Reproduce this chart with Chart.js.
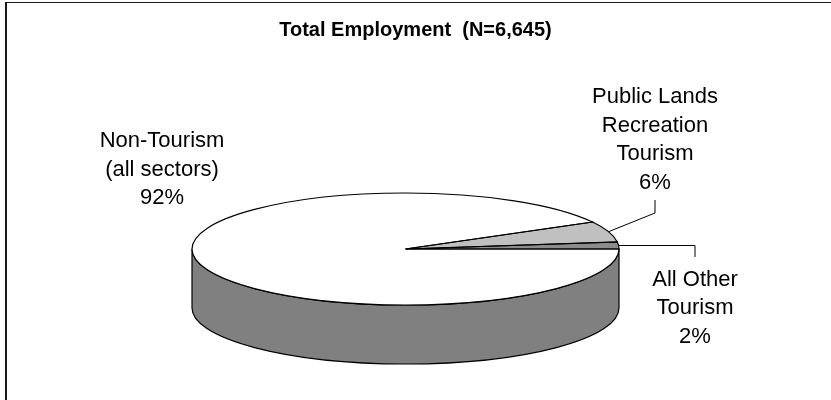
<!DOCTYPE html>
<html>
<head>
<meta charset="utf-8">
<script src="https://cdn.jsdelivr.net/npm/chart.js@4.4.0/dist/chart.umd.min.js"></script>
<style>
  html, body { margin: 0; padding: 0; background: #fff; }
  canvas { display: block; }
</style>
</head>
<body>
<canvas id="pie" width="831" height="400"></canvas>
<script>
const TITLE = 'Total Employment  (N=6,645)';
const CATEGORIES = [
  ['Non-Tourism', '(all sectors)'],
  ['Public Lands', 'Recreation', 'Tourism'],
  ['All Other', 'Tourism'],
];
const SHARES = [92, 6, 2];

const TOP_COLORS = ['#ffffff', '#c0c0c0', '#8c8c8c'];
const SIDE_COLOR = '#808080';
const EDGE_COLOR = '#000000';
const FONT = "'Liberation Sans', Arial, sans-serif";
const LINE_H = 28.7;
const TILT = 0.2623; // ry / rx of the top face

// label block: centre x + first baseline, leader elbow / end (null y = same as start)
const LABEL_LAYOUT = [
  { x: 162, y: 147 },
  { x: 655, y: 103, elbow: [655, 213], end: [655, 200] },
  { x: 695, y: 285.5, elbow: [695, null], end: [695, 257] },
];

function pieGeometry(chart) {
  const a = chart.chartArea;
  const rx = (a.right - a.left) / 2;
  const ry = rx * TILT;
  return { cx: (a.left + a.right) / 2, cy: a.top + ry, rx, ry, depth: (a.bottom - a.top) - 2 * ry };
}

const pie3d = {
  id: 'pie3d',
  beforeDraw(chart) {
    const { ctx } = chart;
    ctx.save();
    ctx.fillStyle = '#1a1a1a';
    ctx.fillRect(5, 2, 2, 398);
    ctx.fillRect(5, 2, 826, 1);
    ctx.restore();
  },
  beforeDatasetsDraw(chart) {
    const { ctx } = chart;
    const g = pieGeometry(chart);
    const arcs = chart.getDatasetMeta(0).data;

    // front wall (only the lower half of the ellipse can be seen)
    ctx.save();
    ctx.lineWidth = 1.2;
    ctx.strokeStyle = EDGE_COLOR;
    ctx.fillStyle = SIDE_COLOR;
    arcs.forEach(arc => {
      for (let n = -1; n <= 1; n++) {
        const lo = Math.max(arc.startAngle, 2 * Math.PI * n);
        const hi = Math.min(arc.endAngle, 2 * Math.PI * n + Math.PI);
        if (hi <= lo) continue;
        ctx.beginPath();
        ctx.ellipse(g.cx, g.cy, g.rx, g.ry, 0, lo, hi);
        ctx.ellipse(g.cx, g.cy + g.depth, g.rx, g.ry, 0, hi, lo, true);
        ctx.closePath();
        ctx.fill();
        ctx.stroke();
      }
    });
    ctx.restore();

    // squash the flat pie into the top face
    const a0 = arcs[0];
    ctx.save();
    ctx.translate(g.cx, g.cy);
    ctx.scale(g.rx / a0.outerRadius, g.ry / a0.outerRadius);
    ctx.translate(-a0.x, -a0.y);
  },
  afterDatasetsDraw(chart) {
    const { ctx } = chart;
    ctx.restore();
    const g = pieGeometry(chart);
    ctx.save();
    ctx.lineWidth = 1.2;
    ctx.strokeStyle = EDGE_COLOR;
    chart.getDatasetMeta(0).data.forEach(arc => {
      ctx.beginPath();
      ctx.moveTo(g.cx, g.cy);
      ctx.ellipse(g.cx, g.cy, g.rx, g.ry, 0, arc.startAngle, arc.endAngle);
      ctx.closePath();
      ctx.stroke();
    });
    ctx.restore();
  },
  afterDraw(chart) {
    const { ctx, width } = chart;
    const g = pieGeometry(chart);
    const arcs = chart.getDatasetMeta(0).data;
    ctx.save();
    ctx.fillStyle = '#000';
    ctx.strokeStyle = '#000';
    ctx.lineWidth = 1;
    ctx.textAlign = 'center';
    ctx.textBaseline = 'alphabetic';
    ctx.font = `bold 20px ${FONT}`;
    ctx.fillText(TITLE, width / 2, 35.5);

    ctx.font = `22px ${FONT}`;
    CATEGORIES.forEach((lines, i) => {
      const lay = LABEL_LAYOUT[i];
      [...lines, SHARES[i] + '%'].forEach((t, j) => ctx.fillText(t, lay.x, lay.y + j * LINE_H));
      if (!lay.end) return;
      const arc = arcs[i];
      const m = (arc.startAngle + arc.endAngle) / 2;
      const sx = g.cx + g.rx * Math.cos(m);
      const sy = g.cy + g.ry * Math.sin(m);
      ctx.beginPath();
      ctx.moveTo(sx, sy);
      ctx.lineTo(lay.elbow[0], lay.elbow[1] ?? sy);
      ctx.lineTo(lay.end[0], lay.end[1]);
      ctx.stroke();
    });
    ctx.restore();
  },
};

new Chart(document.getElementById('pie'), {
  type: 'pie',
  data: {
    labels: CATEGORIES,
    datasets: [{
      data: SHARES,
      backgroundColor: TOP_COLORS,
      borderWidth: 0,
      hoverOffset: 0,
      clip: false,
    }],
  },
  options: {
    responsive: false,
    animation: false,
    events: [],
    rotation: 90,
    layout: { padding: { left: 192, right: 212, top: 193, bottom: 36 } },
    plugins: {
      legend: { display: false },
      title: { display: false },
      tooltip: { enabled: false },
    },
  },
  plugins: [pie3d],
});
</script>
</body>
</html>
